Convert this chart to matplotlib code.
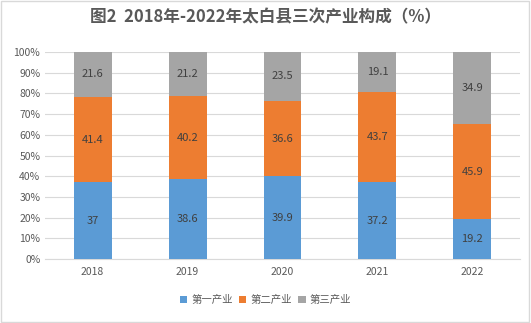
import numpy as np
import matplotlib
matplotlib.use('Agg')
import matplotlib.pyplot as plt
from matplotlib.ticker import PercentFormatter

plt.rcParams['font.family'] = ['Noto Sans CJK SC', 'DejaVu Sans']

# Dati
anni = ['2018', '2019', '2020', '2021', '2022']
primario = [37, 38.6, 39.9, 37.2, 19.2]
secondario = [41.4, 40.2, 36.6, 43.7, 45.9]
terziario = [21.6, 21.2, 23.5, 19.1, 34.9]
etichette = ['第一产业', '第二产业', '第三产业']
colori = ['#5B9BD5', '#ED7D31', '#A5A5A5']

fig = plt.figure(figsize=(5.31, 3.23), dpi=100)
ax = fig.add_axes([0.085, 0.198, 0.894, 0.641])

x = np.arange(len(anni))
base = np.zeros(len(anni))
for serie, nome, col in zip([primario, secondario, terziario], etichette, colori):
    serie = np.array(serie)
    ax.bar(x, serie, 0.4, bottom=base, color=col, label=nome, zorder=3)
    for xi, b, v in zip(x, base, serie):
        ax.text(xi, b + v / 2, f'{v:g}', ha='center', va='center',
                fontsize=8, color='#404040', zorder=4)
    base = base + serie

ax.set_xlim(-0.5, len(anni) - 0.5)
ax.set_ylim(0, 100)
ax.set_yticks(np.arange(0, 101, 10))
ax.yaxis.set_major_formatter(PercentFormatter(decimals=0))
ax.set_xticks(x)
ax.set_xticklabels(anni)
ax.tick_params(axis='both', length=0, labelsize=7.5, labelcolor='#595959')
ax.tick_params(axis='x', pad=6)
ax.grid(axis='y', color='#D9D9D9', linewidth=0.8, zorder=0)
for lato in ['top', 'right', 'left']:
    ax.spines[lato].set_visible(False)
ax.spines['bottom'].set_color('#D9D9D9')

fig.text(0.5, 0.945, '图2  2018年-2022年太白县三次产业构成（%）', ha='center', va='center',
         fontsize=12, fontweight='bold', color='#595959')

fig.legend(loc='center', bbox_to_anchor=(0.5, 0.07), ncol=3, frameon=False,
           fontsize=7.5, handlelength=0.7, handleheight=0.7, handletextpad=0.4,
           columnspacing=0.6, labelcolor='#595959')

fig.patches.append(plt.Rectangle((0.002, 0.003), 0.995, 0.993, transform=fig.transFigure,
                                 fill=False, edgecolor='#D9D9D9', linewidth=1))

plt.savefig('out.png', dpi=100)
